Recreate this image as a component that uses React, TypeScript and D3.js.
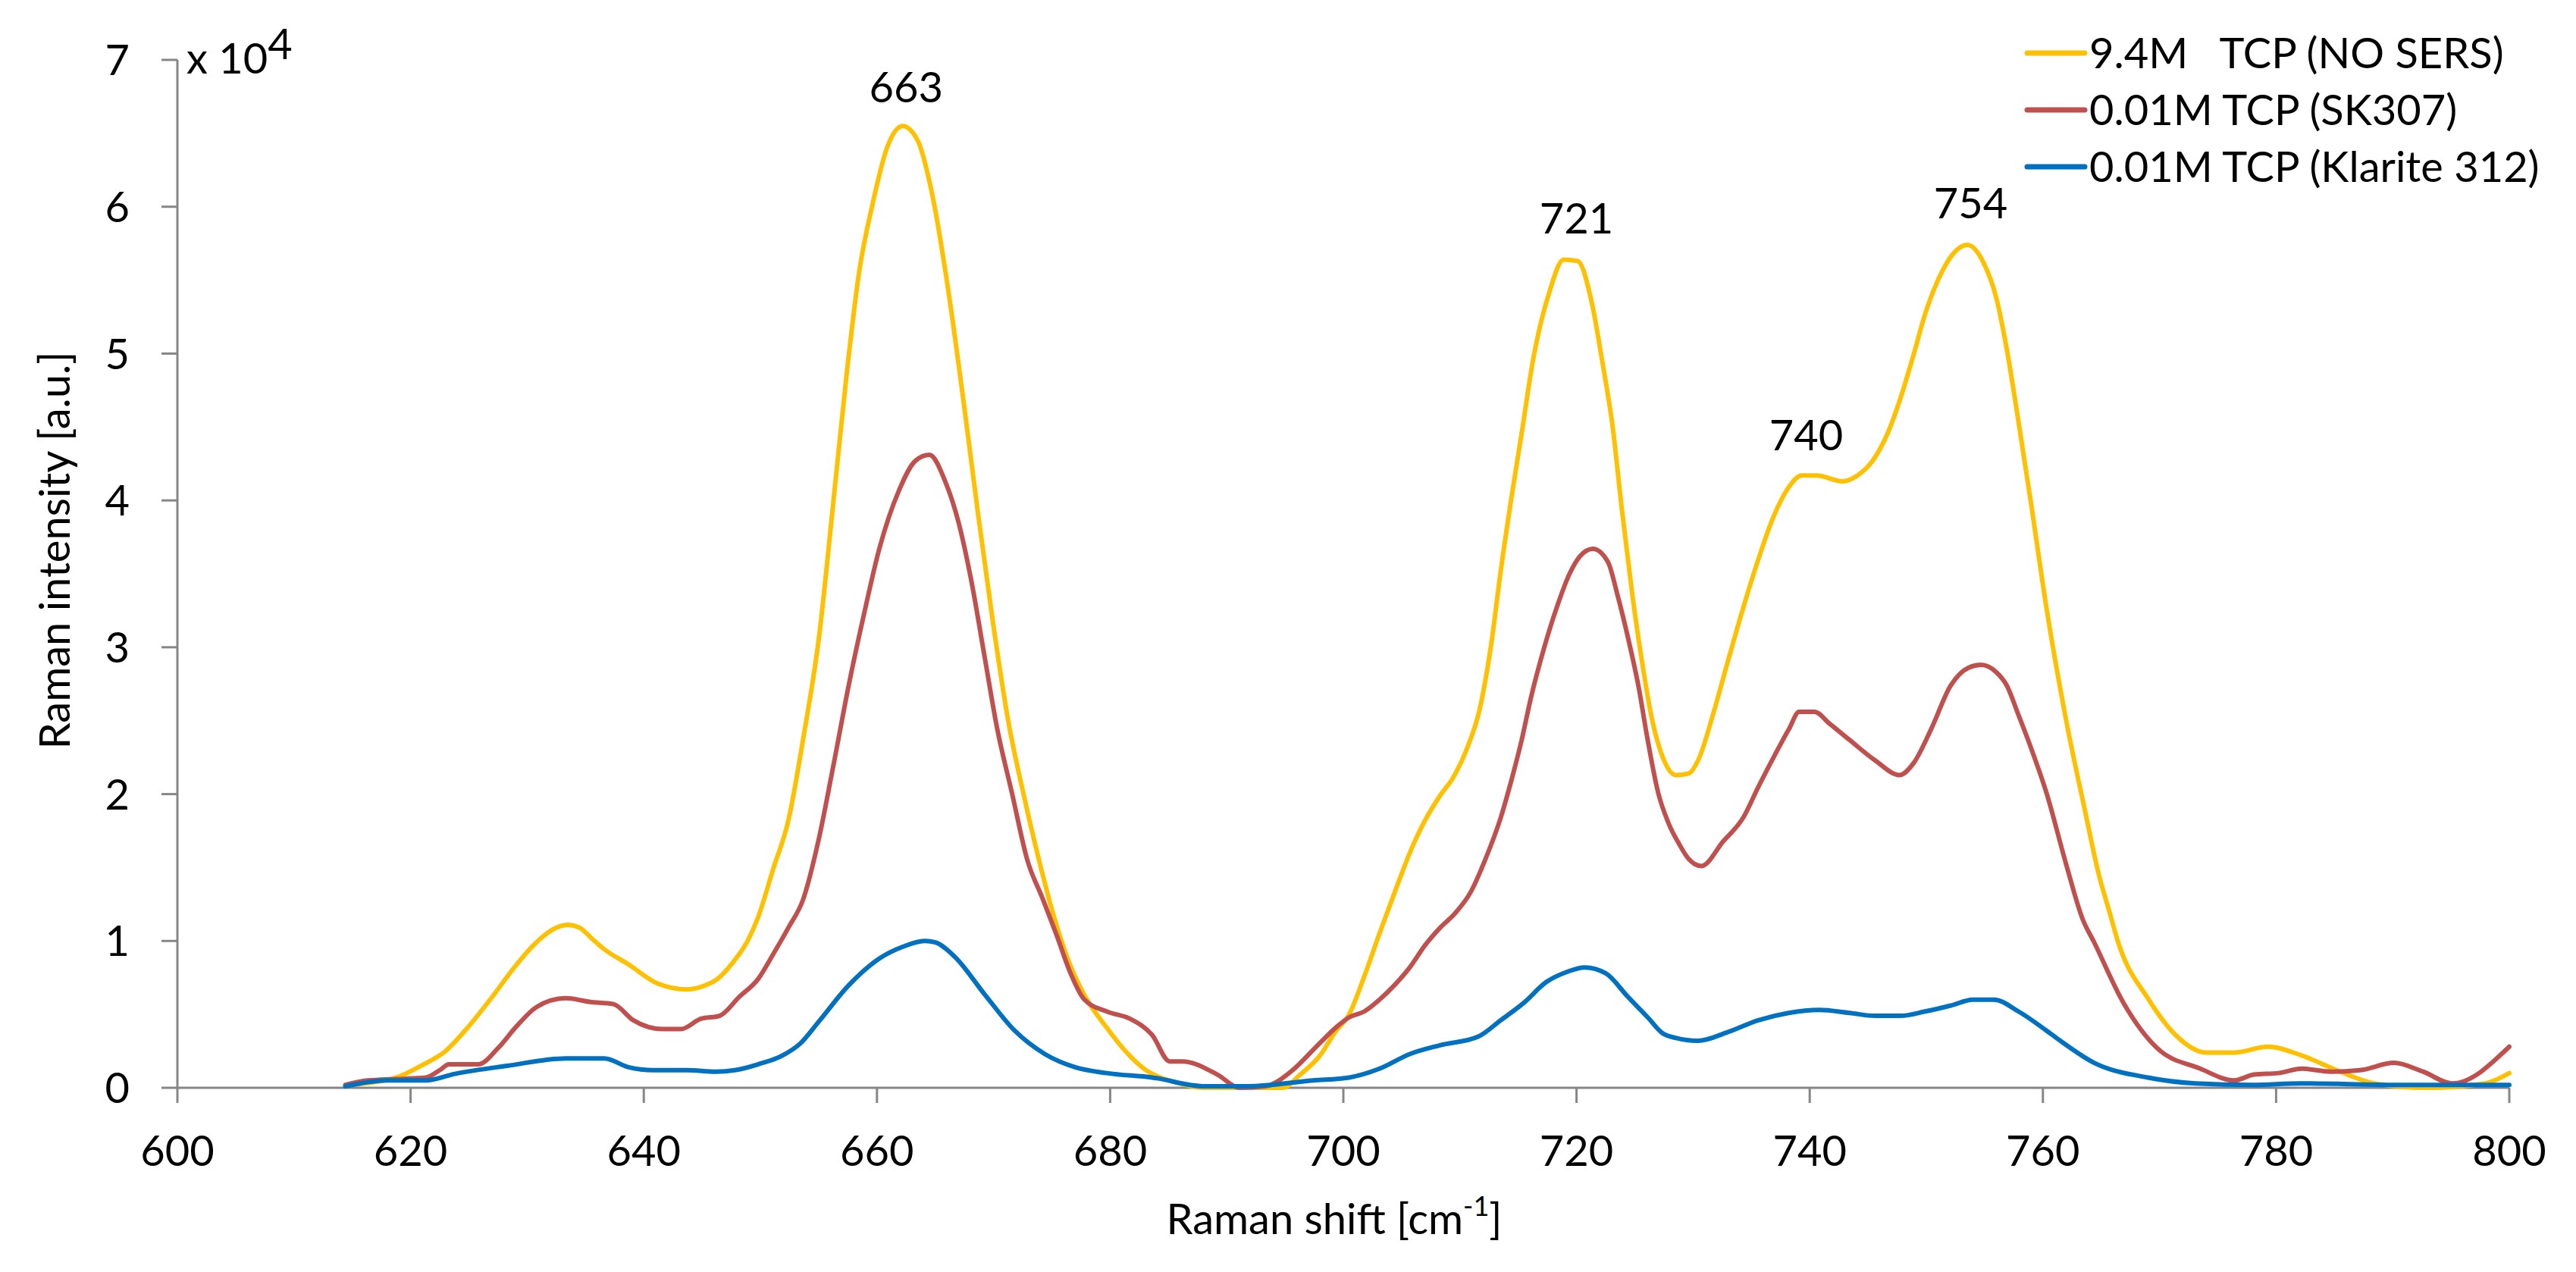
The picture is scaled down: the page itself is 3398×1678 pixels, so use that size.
import React from "react";
import * as d3 from "d3";

// ---------- data ----------
const seriesNames = ["9.4M   TCP (NO SERS)", "0.01M TCP (SK307)", "0.01M TCP (Klarite 312)"];
const seriesColors = ["#FFC000", "#C0504D", "#0070C0"];

const noSersShift = [615, 617, 618.8, 620.9, 623, 625, 627.1, 628.7, 630.4, 631.5, 632.5, 633.5, 634.5, 635.5, 636.5, 638.7, 641.2, 643.7, 645, 646.3, 647.8, 648.9, 649.8, 651.1, 652.4, 653.7, 655.0, 656.3, 657.4, 658.5, 659.6, 660.9, 662.2, 663.5, 664.8, 666.1, 667.4, 668.7, 670.0, 671.3, 672.6, 673.9, 675.2, 676.5, 677.8, 679.7, 681.3, 682.9, 685.5, 688, 692, 694.8, 696.3, 698, 699.3, 700.5, 701.8, 703.1, 704.4, 705.7, 707.0, 708.3, 709.4, 710.5, 711.7, 712.7, 713.5, 714.4, 715.3, 716.3, 717.6, 718.9, 720.1, 721.3, 722.2, 723.1, 723.9, 724.8, 725.7, 726.5, 727.4, 728.5, 729.6, 730.43, 731.7, 733.0, 734.3, 735.6, 736.9, 738.2, 739.3, 740.6, 742.8, 744.1, 745.4, 746.7, 747.8, 748.9, 749.9, 751.0, 752.3, 753.5, 754.9, 756.0, 756.9, 757.9, 759.0, 760.3, 762, 763.6, 764.8, 765.7, 766.5, 769, 771.5, 774, 776.4, 779.3, 782.2, 785.5, 788.4, 793, 797.9, 800];
const noSersValues = [0.02, 0.04, 0.07, 0.15, 0.25, 0.42, 0.63, 0.8, 0.96, 1.04, 1.09, 1.11, 1.09, 1.02, 0.95, 0.84, 0.71, 0.67, 0.69, 0.74, 0.87, 1.0, 1.16, 1.49, 1.82, 2.39, 3.05, 4.02, 4.86, 5.57, 6.01, 6.41, 6.55, 6.45, 6.06, 5.44, 4.69, 3.89, 3.14, 2.48, 1.99, 1.55, 1.16, 0.85, 0.63, 0.41, 0.25, 0.13, 0.04, 0.0, 0.0, 0.0, 0.09, 0.22, 0.38, 0.5, 0.76, 1.05, 1.33, 1.6, 1.82, 1.99, 2.11, 2.29, 2.58, 3.03, 3.52, 4.01, 4.46, 4.97, 5.4, 5.64, 5.63, 5.35, 4.95, 4.5, 3.93, 3.35, 2.86, 2.5, 2.25, 2.13, 2.14, 2.23, 2.54, 2.91, 3.27, 3.6, 3.89, 4.09, 4.17, 4.17, 4.13, 4.17, 4.27, 4.46, 4.7, 4.99, 5.27, 5.5, 5.68, 5.74, 5.62, 5.38, 5.03, 4.54, 3.97, 3.27, 2.5, 1.89, 1.45, 1.2, 0.98, 0.61, 0.35, 0.24, 0.24, 0.28, 0.22, 0.11, 0.03, 0.0, 0.03, 0.1];

const sk307Shift = [614.4, 616.3, 618.8, 621.3, 622.5, 623.3, 625.8, 627.5, 629.1, 630.8, 633.3, 635.4, 637.4, 639.1, 641.6, 643.2, 644.9, 646.5, 648.2, 649.8, 651.1, 652.4, 653.7, 655.0, 656.3, 657.6, 658.9, 660.2, 661.9, 663.3, 664.5, 665.9, 667, 668.1, 669.2, 670.3, 671.6, 672.9, 674.2, 675.5, 676.5, 677.8, 679.7, 681.7, 683.6, 685.1, 686.2, 689.2, 691.1, 693.3, 695.5, 697.8, 699.5, 700.5, 701.8, 703.1, 704.4, 705.7, 707.0, 708.3, 709.6, 710.9, 712.2, 713.5, 714.4, 715.3, 716.1, 717.2, 718.3, 719.4, 720.3, 721.4, 722.7, 723.5, 724.4, 725.3, 726.1, 727.0, 727.9, 728.8, 729.6, 730.7, 732.6, 734.3, 735.6, 736.9, 738.2, 739.1, 740.4, 741.7, 743.4, 745.6, 747.7, 748.9, 750.4, 752.1, 753.6, 754.7, 756.0, 756.9, 757.9, 759.0, 760.3, 762.0, 763.4, 764.4, 766.9, 769.8, 773.5, 776.4, 778.1, 780.2, 782.2, 784.7, 787.2, 790.1, 792.6, 795.1, 800];
const sk307Values = [0.02, 0.05, 0.06, 0.07, 0.12, 0.16, 0.16, 0.27, 0.42, 0.55, 0.61, 0.585, 0.57, 0.46, 0.4, 0.4, 0.47, 0.49, 0.62, 0.74, 0.91, 1.09, 1.29, 1.69, 2.21, 2.75, 3.23, 3.67, 4.07, 4.27, 4.31, 4.12, 3.85, 3.45, 2.95, 2.45, 2.0, 1.55, 1.29, 1.02, 0.8, 0.6, 0.52, 0.47, 0.36, 0.18, 0.18, 0.09, 0.0, 0.01, 0.11, 0.29, 0.42, 0.48, 0.52, 0.6, 0.7, 0.82, 0.97, 1.09, 1.19, 1.33, 1.56, 1.84, 2.09, 2.37, 2.66, 2.99, 3.27, 3.5, 3.62, 3.67, 3.58, 3.36, 3.07, 2.74, 2.37, 2.01, 1.8, 1.66, 1.56, 1.51, 1.68, 1.84, 2.05, 2.25, 2.44, 2.56, 2.56, 2.48, 2.37, 2.23, 2.13, 2.21, 2.44, 2.74, 2.86, 2.88, 2.83, 2.74, 2.54, 2.31, 2.01, 1.52, 1.15, 0.99, 0.58, 0.27, 0.13, 0.05, 0.09, 0.1, 0.13, 0.11, 0.12, 0.17, 0.11, 0.03, 0.28];

const klariteShift = [614.4, 618, 621.3, 623.8, 628.3, 633.3, 636.6, 638.7, 640.8, 643.7, 646.2, 647.8, 649.8, 651.9, 653.4, 655.0, 657.6, 660.2, 662.2, 664.1, 665.0, 666.7, 669.2, 671.8, 674.4, 677, 679.7, 683.6, 688.1, 691.8, 697.4, 700.5, 703.1, 705.7, 708.3, 711.6, 713.5, 715.5, 717.4, 719.2, 720.7, 722.5, 724.4, 726.1, 727.4, 728.5, 730.4, 733.0, 735.6, 738.2, 740.8, 743.4, 745.6, 747.8, 749.9, 752.1, 754.0, 755.8, 757.9, 760.3, 761.5, 764.4, 769, 773.1, 778, 782, 790.5, 800];
const klariteValues = [0.01, 0.05, 0.05, 0.095, 0.15, 0.2, 0.2, 0.14, 0.12, 0.12, 0.11, 0.12, 0.16, 0.22, 0.3, 0.45, 0.7, 0.88, 0.96, 1.0, 0.99, 0.89, 0.64, 0.39, 0.23, 0.14, 0.1, 0.07, 0.01, 0.01, 0.05, 0.07, 0.13, 0.23, 0.29, 0.35, 0.46, 0.58, 0.72, 0.79, 0.82, 0.78, 0.62, 0.48, 0.37, 0.34, 0.32, 0.38, 0.46, 0.51, 0.53, 0.51, 0.49, 0.49, 0.52, 0.56, 0.6, 0.6, 0.52, 0.39, 0.32, 0.17, 0.07, 0.03, 0.02, 0.03, 0.02, 0.02];

const xTicks = [600, 620, 640, 660, 680, 700, 720, 740, 760, 780, 800];
const yTicks = [0, 1, 2, 3, 4, 5, 6, 7];

const peakLabels = ["663", "721", "740", "754"];
const peakLabelShift = [662.5, 720.0, 739.7, 753.8];
const peakLabelLevel = [6.71, 5.82, 4.34, 5.92];

const xTitle = "Raman shift [cm";
const yTitle = "Raman intensity [a.u.]";

// ---------- layout ----------
const W = 3398;
const H = 1678;
const FONT = "Lato, 'Open Sans', sans-serif";
const FS = 56;
const AXIS = "#868686";

export default function App() {
  const x = d3.scaleLinear().domain([600, 800]).range([234, 3310]);
  const y = d3.scaleLinear().domain([0, 7]).range([1435, 79]);

  const shifts = [noSersShift, sk307Shift, klariteShift];
  const values = [noSersValues, sk307Values, klariteValues];

  const line = d3
    .line<[number, number]>()
    .x((d) => x(d[0]))
    .y((d) => y(d[1]))
    .curve(d3.curveMonotoneX);

  const paths = shifts.map((s, i) => line(s.map((v, j) => [v, values[i][j]] as [number, number])) || "");

  const [x0, x1] = x.range();
  const [yb, yt] = y.range();

  return (
    <svg
      width={W}
      height={H}
      style={{ position: "absolute", left: 0, top: 0, background: "#fff" }}
      fontFamily={FONT}
    >
      <rect x={0} y={0} width={W} height={H} fill="#fff" />
      {/* y axis */}
      <line x1={x0} x2={x0} y1={yt} y2={yb} stroke={AXIS} strokeWidth={3} />
      {yTicks.map((t) => (
        <g key={"yt" + t}>
          <line x1={x0 - 21} x2={x0} y1={y(t)} y2={y(t)} stroke={AXIS} strokeWidth={3} />
          <text x={171} y={y(t)} dy="0.36em" textAnchor="end" fontSize={FS} fill="#000">
            {t}
          </text>
        </g>
      ))}
      {/* x axis */}
      <line x1={x0} x2={x1} y1={yb} y2={yb} stroke={AXIS} strokeWidth={3} />
      {xTicks.map((t) => (
        <g key={"xt" + t}>
          <line x1={x(t)} x2={x(t)} y1={yb} y2={yb + 20} stroke={AXIS} strokeWidth={3} />
          <text x={x(t)} y={1538} textAnchor="middle" fontSize={FS} fill="#000">
            {t}
          </text>
        </g>
      ))}
      {/* exponent */}
      <text x={246} y={97} fontSize={FS} fill="#000">
        x 10
        <tspan dy={-19}>4</tspan>
      </text>
      {/* series */}
      {paths.map((d, i) => (
        <path key={"p" + i} d={d} fill="none" stroke={seriesColors[i]} strokeWidth={6} strokeLinejoin="round" strokeLinecap="round" />
      ))}
      {/* peak labels */}
      {peakLabels.map((l, i) => (
        <text key={"pk" + i} x={x(peakLabelShift[i])} y={y(peakLabelLevel[i])} textAnchor="middle" fontSize={FS} fill="#000">
          {l}
        </text>
      ))}
      {/* axis titles */}
      <text x={1760} y={1628} textAnchor="middle" fontSize={FS} fill="#000">
        {xTitle}
        <tspan fontSize={36} dy={-24}>-1</tspan>
        <tspan dy={24}>]</tspan>
      </text>
      <text transform={`translate(92,726) rotate(-90)`} textAnchor="middle" fontSize={FS} fill="#000">
        {yTitle}
      </text>
      {/* legend */}
      {seriesNames.map((n, i) => (
        <g key={"lg" + i}>
          <line x1={2674} x2={2750} y1={70 + i * 75} y2={70 + i * 75} stroke={seriesColors[i]} strokeWidth={7} strokeLinecap="round" />
          <text x={2756} y={70 + i * 75} dy="0.36em" fontSize={FS} fill="#000" style={{ whiteSpace: "pre" }}>
            {n}
          </text>
        </g>
      ))}
    </svg>
  );
}
